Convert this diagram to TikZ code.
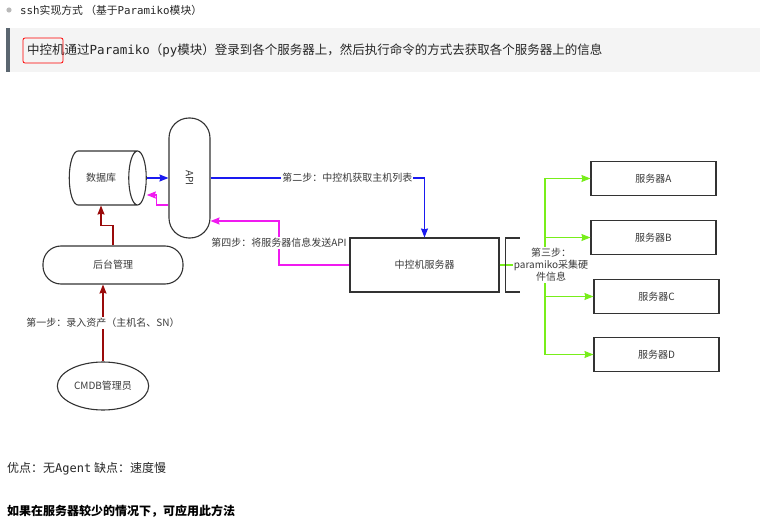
\documentclass[tikz,border=0pt]{standalone}
\usepackage{fontspec}
\setmainfont{Noto Sans CJK SC}
\newfontfamily\codefont{DejaVu Sans Mono}
\usetikzlibrary{shapes.geometric,arrows.meta}
\definecolor{linegray}{HTML}{333333}
\definecolor{textgray}{HTML}{3A3A3A}
\definecolor{quotebg}{HTML}{F4F4F4}
\definecolor{quotebar}{HTML}{5B6670}
\definecolor{stepblue}{HTML}{1A1AF0}
\definecolor{stepmag}{HTML}{F01AF0}
\definecolor{stepred}{HTML}{9A0A0A}
\definecolor{stepgreen}{HTML}{78EE1A}

\begin{document}
\begin{tikzpicture}[>={Stealth[length=9pt,width=7pt,inset=1pt]},x=1pt,y=-1pt,font=\fontsize{10}{12}\selectfont,
  box/.style={draw=linegray,line width=1.1pt,text=textgray},
  steplabel/.style={fill=white,text=textgray,inner sep=1pt},
  flow/.style={->,line width=1.3pt}]
\useasboundingbox (0,0) rectangle (764,532);
\fill[white] (0,0) rectangle (764,532);

% header lines
\fill[gray!55] (9,10) circle (2.6);
\node(title) at (20,10)[anchor=west,inner sep=0,text=black!85,font=\fontsize{10.8}{12}\selectfont]{{\codefont ssh}实现方式 （基于{\codefont Paramiko}模块）};
\fill[quotebg] (6,28) rectangle (760,72);
\fill[quotebar] (6,28) rectangle (10,72);
\node(intro) at (27,50)[anchor=west,inner sep=0,text=black!85,font=\fontsize{12.5}{14}\selectfont]{中控机通过{\codefont Paramiko}（{\codefont py}模块）登录到各个服务器上，然后执行命令的方式去获取各个服务器上的信息};
\draw[red,line width=0.8pt,rounded corners=2pt] (23,38) rectangle (63,63);

% nodes
\node(db) at (101,178)[cylinder,box,minimum width=54pt,minimum height=77pt,aspect=1.1]{数据库};
\node(api) at (189.5,178)[box,rounded corners=20pt,minimum width=41pt,minimum height=120pt]{\rotatebox{-90}{API}};
\node(admin) at (113,265)[box,rounded corners=18pt,minimum width=140pt,minimum height=38pt]{后台管理};
\node(cmdb) at (103,386)[ellipse,box,minimum width=76pt,minimum height=48pt]{CMDB管理员};
\node(ctrl) at (424.5,265)[box,minimum width=149pt,minimum height=54pt]{中控机服务器};
\node(srva) at (653.5,178.5)[box,minimum width=125pt,minimum height=34pt]{服务器A};
\node(srvb) at (653.5,237.5)[box,minimum width=125pt,minimum height=34pt]{服务器B};
\node(srvc) at (656.5,296.5)[box,minimum width=125pt,minimum height=34pt]{服务器C};
\node(srvd) at (656.5,354.5)[box,minimum width=125pt,minimum height=34pt]{服务器D};

\coordinate(back) at (279,221);
\coordinate(fork) at (545,265);

% step 1
\draw[flow,stepred] (cmdb.north) -- (cmdb.north |- admin.south) node[midway,steplabel]{第一步：录入资产（主机名、SN）};
\draw[flow,stepred] (admin.north) -- ++(0,-20) -| (db.south);
% step 2
\draw[flow,stepblue] (db.east) -- (db.east -| api.west);
\draw[flow,stepblue] (api.east) -| (ctrl.north) node[pos=0.32,steplabel]{第二步：中控机获取主机列表};
% step 4
\draw[flow,stepmag] (ctrl.west) -| (back) node[pos=0.75,steplabel]{第四步：将服务器信息发送API} -- (back -| api.east);
\draw[flow,stepmag] ([yshift=-27pt]api.west) -- ++(-12,0) |- ([yshift=-17pt]db.east);
% step 3
\draw[line width=1.3pt,stepgreen] (ctrl.east) -- (fork);
\draw[line width=1.3pt,stepgreen] (fork |- srva.west) -- (fork |- srvd.west);
\foreach \s in {srva,srvb,srvc,srvd}
  \draw[flow,stepgreen] (fork |- \s.west) -- (\s.west);
\draw[line width=1.1pt,linegray] ([xshift=20pt,yshift=27pt]ctrl.east) -- ++(-14,0) -- ++(0,54) -- ++(14,0);
\node(step3) at (551,265)[steplabel,align=center]{第三步：\\paramiko采集硬\\件信息};

% footer
\node(pros) at (7,469)[anchor=west,inner sep=0,text=black!85,font=\fontsize{12}{14}\selectfont]{优点：无{\codefont Agent} 缺点：速度慢};
\node(advice) at (7,511)[anchor=west,inner sep=0,text=black,font=\fontsize{12}{14}\selectfont\bfseries]{如果在服务器较少的情况下，可应用此方法};
\end{tikzpicture}
\end{document}
